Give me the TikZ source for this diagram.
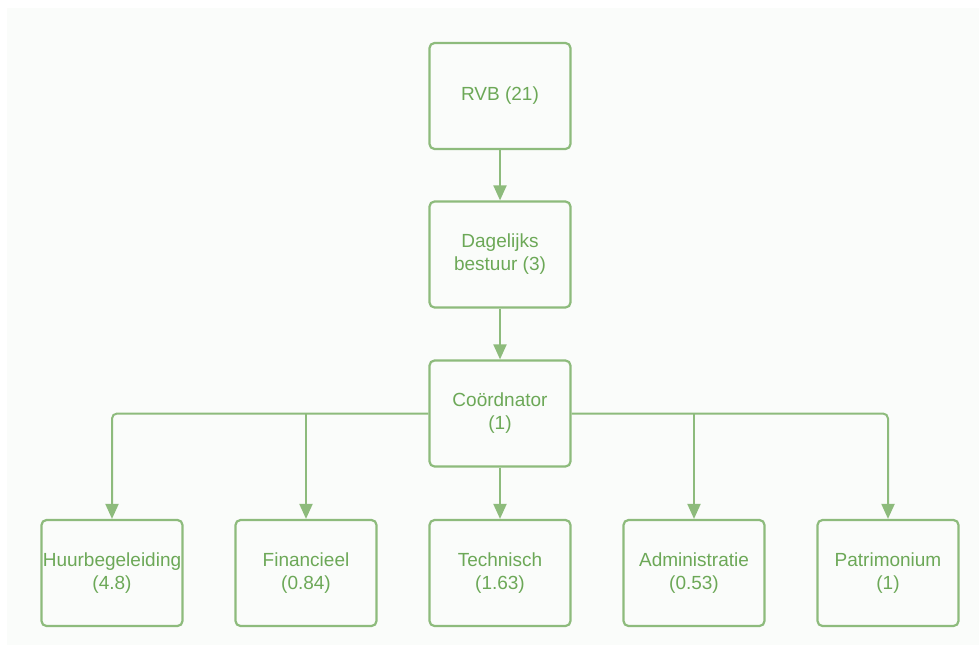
\documentclass[tikz,border=0pt]{standalone}
\usepackage{fontspec}
\setmainfont{Liberation Sans}
\usetikzlibrary{arrows.meta}
\definecolor{linegreen}{HTML}{8DBB7C}
\definecolor{textgreen}{HTML}{6CA857}
\definecolor{bgtint}{HTML}{FAFCFA}
\tikzset{
  box/.style={draw=linegreen, line width=2.2pt, rounded corners=5pt, minimum width=141pt, minimum height=106pt,
    text=textgreen, align=center, font=\fontsize{19pt}{23pt}\selectfont, inner sep=0pt, fill=bgtint},
  conn/.style={draw=linegreen, line width=2pt, rounded corners=5pt, -{Triangle[width=13pt,length=15pt]}}
}
\begin{document}
\begin{tikzpicture}[x=1pt,y=-1pt]
\useasboundingbox (0,0) rectangle (979,653);
\fill[white] (0,0) rectangle (979,653);
\fill[bgtint] (7,8) rectangle (979,645);
\node[box] (rvb) at (500,96) {RVB (21)};
\node[box] (db) at (500,254.5) {Dagelijks\\bestuur (3)};
\node[box] (co) at (500,413.5) {Coördnator\\(1)};
\node[box] (hu) at (112,573) {Huurbegeleiding\\(4.8)};
\node[box] (fi) at (306,573) {Financieel\\(0.84)};
\node[box] (te) at (500,573) {Technisch\\(1.63)};
\node[box] (ad) at (694,573) {Administratie\\(0.53)};
\node[box] (pa) at (888,573) {Patrimonium\\(1)};
\coordinate (jf) at (fi.north |- co.west);
\coordinate (ja) at (ad.north |- co.east);
\draw[conn] (rvb) -- (db);
\draw[conn] (db) -- (co);
\draw[conn] (co.west) -| (hu.north);
\draw[conn] (jf) -- (fi.north);
\draw[conn] (co) -- (te);
\draw[conn] (ja) -- (ad.north);
\draw[conn] (co.east) -| (pa.north);
\end{tikzpicture}
\end{document}
